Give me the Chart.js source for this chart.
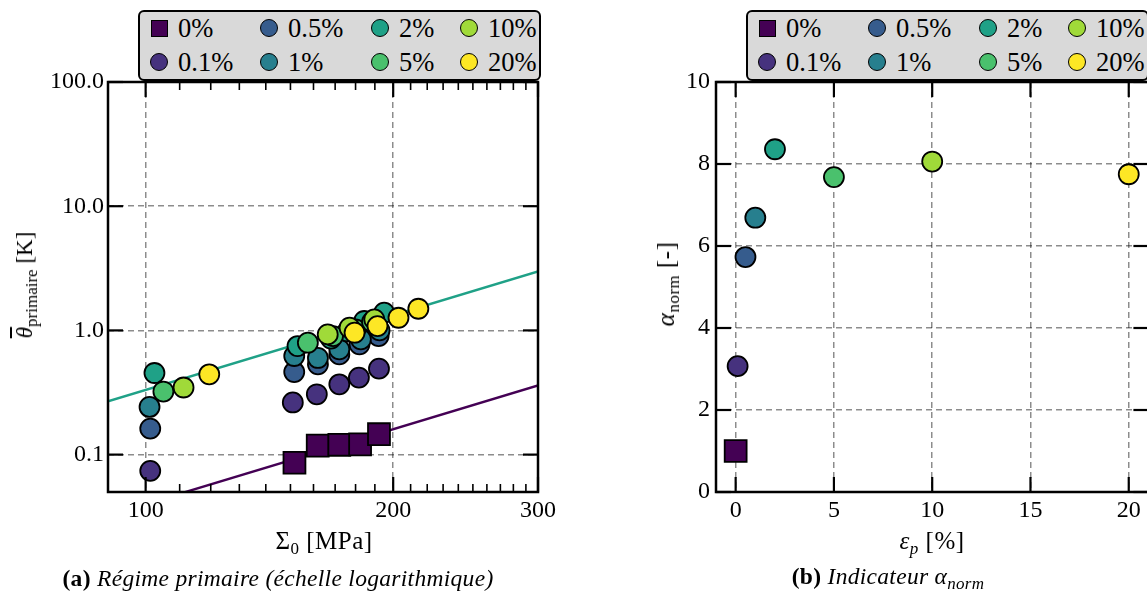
<!DOCTYPE html>
<html lang="fr">
<head>
<meta charset="UTF-8">
<title>Régime primaire et indicateur alpha_norm</title>
<script src="https://cdn.jsdelivr.net/npm/chart.js"></script>
<style>
  body { margin:0; width:1147px; height:592px; overflow:hidden; background:#fff; position:relative;
         font-family:"Liberation Serif", "DejaVu Serif", serif; color:#000; }
  canvas { position:absolute; top:0; }
  .legend { position:absolute; top:10px; width:403px; height:71px; box-sizing:border-box;
            background:#d9d9d9; border:2.2px solid #000; border-radius:6px; font-size:26.5px; z-index:2; }
  .item { position:absolute; white-space:nowrap; line-height:30px; height:30px; }
  .mk { position:absolute; box-sizing:border-box; border:1.8px solid #000; }
  .txt { position:absolute; top:0; }
  .title { position:absolute; white-space:nowrap; font-size:25px; letter-spacing:0.5px; transform:translate(-50%,-50%); }
  .ytitle { transform:translate(-50%,-50%) rotate(-90deg); }
  .title sub { font-size:17px; vertical-align:-5px; }
  .ov { text-decoration:overline; font-style:italic; }
  .cap { position:absolute; top:578px; white-space:nowrap; font-size:23.5px; letter-spacing:0.3px; transform:translate(-50%,-50%); }
  .cap sub { font-size:17px; vertical-align:-5px; }
</style>
</head>
<body>
<canvas id="chartA" width="560" height="592" style="left:0"></canvas>
<canvas id="chartB" width="580" height="592" style="left:590px"></canvas>

<div class="legend" id="legA" style="left:138px"></div>
<div class="legend" id="legB" style="left:746px"></div>

<div class="title" style="left:324px; top:543px">Σ<sub>0</sub> [MPa]</div>
<div class="title ytitle" style="left:27px; top:285px; font-size:23px; letter-spacing:0"><span class="ov">θ</span><sub>primaire</sub> [K]</div>
<div class="title" style="left:932px; top:543px"><i>ε<sub>p</sub></i> [%]</div>
<div class="title ytitle" style="left:668px; top:284px"><i>α</i><sub>norm</sub> [-]</div>

<div class="cap" style="left:278px"><b>(a)</b> <i>Régime primaire (échelle logarithmique)</i></div>
<div class="cap" style="left:888px"><b>(b)</b> <i>Indicateur α<sub>norm</sub></i></div>

<script>
// déformations plastiques et couleurs (viridis)
const strainLabels = ['0%', '0.1%', '0.5%', '1%', '2%', '5%', '10%', '20%'];
const strainColors = ['#440154', '#46327e', '#365c8d', '#277f8e', '#1fa187', '#4ac16d', '#a0da39', '#fde725'];

// (a) contrainte Sigma_0 [MPa] et theta primaire [K] par niveau de déformation
const sigma_0   = [151.7, 161.9, 172.0, 182.3, 192.2];
const theta_0   = [0.086, 0.118, 0.120, 0.121, 0.146];
const sigma_0_1 = [101.3, 151.0, 161.5, 172.0, 181.7, 192.2];
const theta_0_1 = [0.074, 0.263, 0.306, 0.368, 0.417, 0.492];
const sigma_0_5 = [101.3, 151.6, 162.0, 172.0, 182.0, 192.0];
const theta_0_5 = [0.162, 0.462, 0.533, 0.641, 0.772, 0.90];
const sigma_1   = [101.1, 151.6, 162.0, 172.0, 182.7, 192.5];
const theta_1   = [0.242, 0.622, 0.600, 0.704, 0.847, 1.00];
const sigma_2   = [102.5, 153.0, 168.0, 176.0, 184.4, 195.0];
const theta_2   = [0.454, 0.748, 0.86, 0.98, 1.19, 1.39];
const sigma_5   = [105.1, 157.5, 169.0, 180.0, 188.5];
const theta_5   = [0.322, 0.796, 0.90, 1.02, 1.17];
const sigma_10  = [111.2, 166.5, 177.0, 189.7];
const theta_10  = [0.347, 0.929, 1.051, 1.226];
const sigma_20  = [119.5, 179.5, 191.4, 203.0, 214.6];
const theta_20  = [0.443, 0.958, 1.083, 1.265, 1.494];

// droites d'ajustement (pente 2 en log-log)
const fitSigma   = [90, 300];
const fitTheta2  = [0.269, 2.98];
const fitTheta0  = [0.0324, 0.36];

// graduations (a)
const sigmaTicks = [100, 200, 300];
const sigmaTickLabels = ['100', '200', '300'];
const thetaTicks = [0.1, 1, 10, 100];
const thetaTickLabels = ['0.1', '1.0', '10.0', '100.0'];

// (b) indicateur alpha_norm
const epsP      = [0, 0.1, 0.5, 1, 2, 5, 10, 20];
const alphaNorm = [1.0, 3.07, 5.73, 6.69, 8.36, 7.68, 8.06, 7.75];
const epsTicks  = [0, 5, 10, 15, 20];
const alphaTicks = [0, 2, 4, 6, 8, 10];

const sigmaSeries = [sigma_0, sigma_0_1, sigma_0_5, sigma_1, sigma_2, sigma_5, sigma_10, sigma_20];
const thetaSeries = [theta_0, theta_0_1, theta_0_5, theta_1, theta_2, theta_5, theta_10, theta_20];

const tickFont = { family: 'Liberation Serif', size: 24 };

// cadre + graduations vers l'intérieur, comme matplotlib
const frameTicks = {
  id: 'frameTicks',
  afterDraw(chart, args, opts) {
    const { ctx, chartArea: a, scales: { x, y } } = chart;
    const seg = (x1, y1, x2, y2) => { ctx.beginPath(); ctx.moveTo(x1, y1); ctx.lineTo(x2, y2); ctx.stroke(); };
    ctx.save();
    ctx.strokeStyle = '#000';
    ctx.lineWidth = 2.2;
    x.ticks.forEach(t => {
      const p = x.getPixelForValue(t.value);
      seg(p, a.bottom, p, a.bottom - 15);
      seg(p, a.top, p, a.top + 15);
    });
    y.ticks.forEach(t => {
      const p = y.getPixelForValue(t.value);
      seg(a.left, p, a.left + 15, p);
      seg(a.right, p, a.right - 15, p);
    });
    ctx.lineWidth = 1.6;
    (opts.minorX || []).forEach(v => {
      const p = x.getPixelForValue(v);
      seg(p, a.bottom, p, a.bottom - 8);
      seg(p, a.top, p, a.top + 8);
    });
    ctx.lineWidth = 2.5;
    ctx.strokeRect(a.left, a.top, a.right - a.left, a.bottom - a.top);
    ctx.restore();
  }
};

const gridStyle = { color: 'rgba(0,0,0,0.45)', lineWidth: 1.5, drawTicks: false };
const borderStyle = { display: false, dash: [6, 4] };

function fixedTicks(values) {
  return scale => { scale.ticks = values.map(v => ({ value: v })); };
}

// minor ticks 90..290 MPa every 10
const sigmaMinor = [];
for (let v = 90; v < 300; v += 10) if (v !== 100 && v !== 200) sigmaMinor.push(v);

const datasetsA = strainLabels.map((lab, i) => ({
  label: lab,
  data: sigmaSeries[i].map((s, k) => ({ x: s, y: thetaSeries[i][k] })),
  backgroundColor: strainColors[i],
  borderColor: '#000',
  borderWidth: 1.8,
  pointStyle: i === 0 ? 'rect' : 'circle',
  pointRadius: i === 0 ? 15.5 : 10,
  order: 10 - i
}));
datasetsA.push({
  label: 'fit 2%', data: fitSigma.map((s, k) => ({ x: s, y: fitTheta2[k] })),
  showLine: true, pointRadius: 0, borderColor: strainColors[4], borderWidth: 2.4, order: 50
});
datasetsA.push({
  label: 'fit 0%', data: fitSigma.map((s, k) => ({ x: s, y: fitTheta0[k] })),
  showLine: true, pointRadius: 0, borderColor: strainColors[0], borderWidth: 2.4, order: 50
});

new Chart(document.getElementById('chartA'), {
  type: 'scatter',
  data: { datasets: datasetsA },
  plugins: [frameTicks],
  options: {
    responsive: false, animation: false, events: [],
    layout: { padding: { top: 82, right: 20, left: 0, bottom: 0 } },
    plugins: { legend: { display: false }, tooltip: { enabled: false }, frameTicks: { minorX: sigmaMinor } },
    scales: {
      x: {
        type: 'logarithmic', min: 90, max: 300,
        afterBuildTicks: fixedTicks(sigmaTicks),
        afterFit: s => { s.height = 100; },
        grid: gridStyle, border: borderStyle,
        ticks: { font: tickFont, color: '#000', padding: 4, maxRotation: 0, autoSkip: false,
                 callback: (v, i) => sigmaTickLabels[i] }
      },
      y: {
        type: 'logarithmic', min: 0.05, max: 100,
        afterBuildTicks: fixedTicks(thetaTicks),
        afterFit: s => { s.width = 108; },
        grid: gridStyle, border: borderStyle,
        ticks: { font: tickFont, color: '#000', padding: 4, autoSkip: false,
                 callback: (v, i) => thetaTickLabels[i] }
      }
    }
  }
});

new Chart(document.getElementById('chartB'), {
  type: 'scatter',
  data: {
    datasets: [{
      label: 'alpha_norm',
      data: epsP.map((e, i) => ({ x: e, y: alphaNorm[i] })),
      pointBackgroundColor: strainColors,
      pointBorderColor: '#000',
      pointBorderWidth: 1.8,
      pointStyle: strainLabels.map((_, i) => i === 0 ? 'rect' : 'circle'),
      pointRadius: strainLabels.map((_, i) => i === 0 ? 15.5 : 10)
    }]
  },
  plugins: [frameTicks],
  options: {
    responsive: false, animation: false, events: [],
    layout: { padding: { top: 82, right: 21.6, left: 0, bottom: 0 } },
    plugins: { legend: { display: false }, tooltip: { enabled: false } },
    scales: {
      x: {
        type: 'linear', min: -1, max: 21,
        afterBuildTicks: fixedTicks(epsTicks),
        afterFit: s => { s.height = 100; },
        grid: gridStyle, border: borderStyle,
        ticks: { font: tickFont, color: '#000', padding: 4, maxRotation: 0, autoSkip: false }
      },
      y: {
        type: 'linear', min: 0, max: 10,
        afterBuildTicks: fixedTicks(alphaTicks),
        afterFit: s => { s.width = 126; },
        grid: gridStyle, border: borderStyle,
        ticks: { font: tickFont, color: '#000', padding: 6, autoSkip: false }
      }
    }
  }
});

// légendes (2 lignes x 4 colonnes, remplies par colonne)
function buildLegend(el) {
  const colMarker = [21, 131, 242, 331];
  strainLabels.forEach((lab, i) => {
    const col = Math.floor(i / 2), row = i % 2;
    const item = document.createElement('div');
    item.className = 'item';
    item.style.left = '0px';
    item.style.top = (row === 0 ? 1 : 35) + 'px';
    const mk = document.createElement('div');
    mk.className = 'mk';
    const d = i === 0 ? 17 : 18;
    mk.style.width = d + 'px';
    mk.style.height = d + 'px';
    mk.style.left = (colMarker[col] - 2 - d / 2) + 'px';
    mk.style.top = (15 - d / 2) + 'px';
    mk.style.borderRadius = i === 0 ? '0' : '50%';
    mk.style.background = strainColors[i];
    const tx = document.createElement('span');
    tx.className = 'txt';
    tx.style.left = (colMarker[col] + 17) + 'px';
    tx.textContent = lab;
    item.appendChild(mk);
    item.appendChild(tx);
    el.appendChild(item);
  });
}
buildLegend(document.getElementById('legA'));
buildLegend(document.getElementById('legB'));
</script>
</body>
</html>
